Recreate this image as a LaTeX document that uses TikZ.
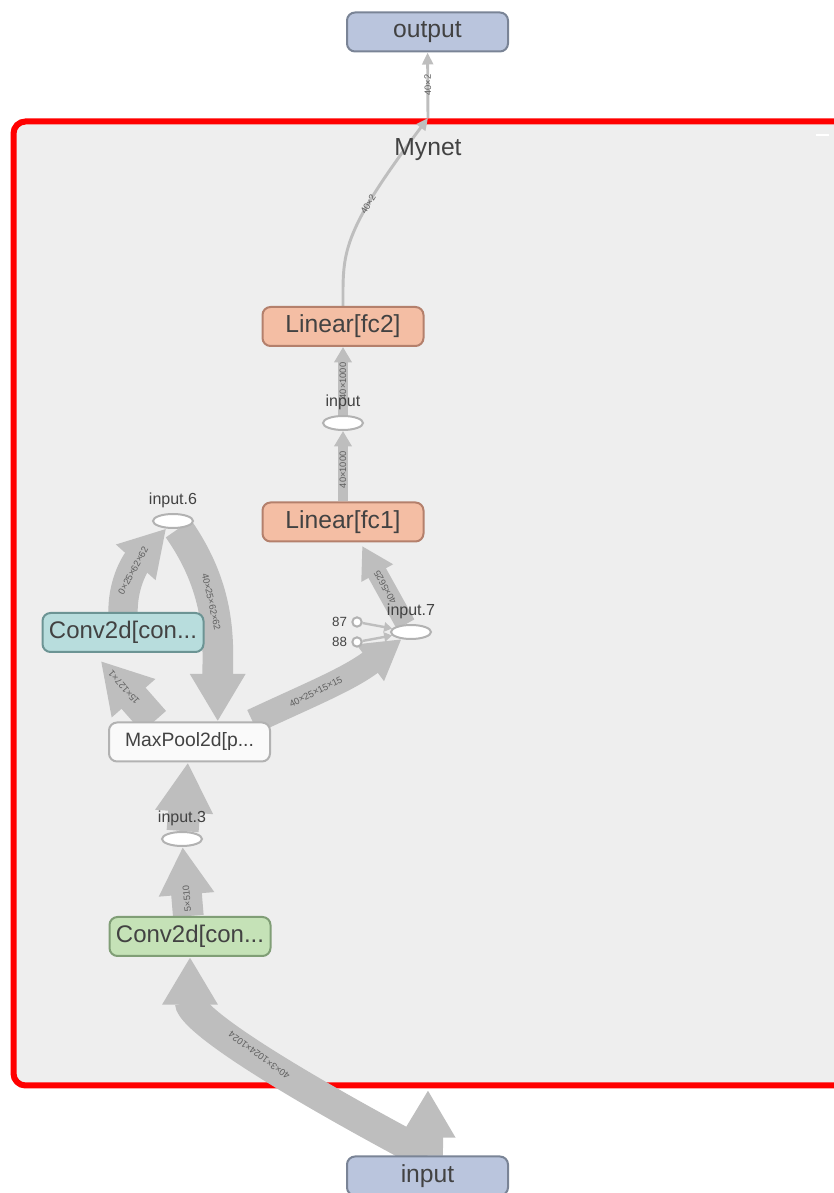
\documentclass[tikz,border=0pt]{standalone}
\usepackage{fontspec}
\setmainfont{Liberation Sans}
\usepackage{tikz}
\usetikzlibrary{arrows.meta}
\usetikzlibrary{shapes.geometric}
\usetikzlibrary {positioning}
\definecolor{edgegray}{RGB}{190,190,190}
\definecolor{holegray}{RGB}{178,178,178}
\definecolor{textgray}{RGB}{66,66,66}
\definecolor{labelgray}{RGB}{95,95,95}
\definecolor{framegray}{RGB}{238,238,238}
\definecolor{iofill}{RGB}{186,197,221}
\definecolor{iodraw}{RGB}{122,132,150}
\definecolor{linfill}{RGB}{244,190,164}
\definecolor{lindraw}{RGB}{180,128,108}
\definecolor{tealfill}{RGB}{184,221,221}
\definecolor{tealdraw}{RGB}{108,148,148}
\definecolor{greenfill}{RGB}{197,226,183}
\definecolor{greendraw}{RGB}{128,158,118}
\tikzset{op node/.style={rectangle,rounded corners=6pt,draw,line width=1.5pt,minimum width=120.75pt,minimum height=29.25pt,inner sep=1pt,text=textgray,font=\fontsize{18.5}{18.5}\selectfont}}
\tikzset{hole node/.style={ellipse,draw=holegray,fill=white,line width=1.5pt,minimum width=30pt,minimum height=10.5pt,inner sep=0pt}}
\tikzset{hole text/.style={text=textgray,font=\fontsize{12}{12}\selectfont,inner sep=1pt,label distance=3pt}}
\tikzset{const node/.style={circle,draw=holegray,fill=white,line width=1.5pt,minimum size=7pt,inner sep=0pt}}
\tikzset{flow/.style={draw=edgegray,line width=#1,-{Triangle[width=0pt 1.7,length=0pt 1.55]}}}
\tikzset{thin flow/.style={draw=edgegray,line width=1.8pt,-{Triangle[width=7pt,length=6pt]}}}
\tikzset{line flow/.style={draw=edgegray,line width=2.2pt,-{Triangle[width=8pt,length=9pt]}}}
\tikzset{shape text/.style={sloped,allow upside down,font=\fontsize{7}{7}\selectfont,text=labelgray,inner sep=0pt}}
\pgfdeclarelayer{frame}
\pgfdeclarelayer{edges}
\pgfsetlayers{frame,edges,main}

\begin{document}
\begin{tikzpicture}[x=0.75pt,y=0.75pt,on grid]
	\useasboundingbox (0,0) rectangle (834,1193);
	\begin{pgfonlayer}{frame}
		\draw[red,line width=4.5pt,fill=framegray,rounded corners=9pt] (13.5,107.5) rectangle (855,1071.5);
		\draw[white,line width=1.5pt] (816,1058) -- (829,1058);
	\end{pgfonlayer}
	\node[text=textgray,font=\fontsize{18.5}{18.5}\selectfont] (mynet) at (428,1043) {Mynet};

	\node[op node,fill=linfill,draw=lindraw] (fc2) at (343,866.5) {Linear[fc2]};
	\node[hole node,label={[hole text]above:input}] (in1) [below = 72.375pt of fc2] {};
	\node[op node,fill=linfill,draw=lindraw] (fc1) [below = 74.25pt of in1] {Linear[fc1]};
	\node[hole node,label={[hole text]above:input.7}] (in7) [below right = 82.5pt and 51pt of fc1] {};
	\node[const node,label={[hole text,font=\fontsize{10}{10}\selectfont,label distance=2pt]left:87}] (c87) [above left = 7.5pt and 40.5pt of in7] {};
	\node[const node,label={[hole text,font=\fontsize{10}{10}\selectfont,label distance=2pt]left:88}] (c88) [below left = 7.5pt and 40.5pt of in7] {};
	\node[op node,fill=white!98!black,draw=holegray,font=\fontsize{14.5}{14.5}\selectfont] (pool) [below left = 165pt and 115.125pt of fc1] {MaxPool2d[p...};
	\node[op node,fill=tealfill,draw=tealdraw,font=\fontsize{18}{18}\selectfont] (conv2) [above left = 82.125pt and 49.875pt of pool] {Conv2d[con...};
	\node[hole node,label={[hole text]above:input.6}] (in6) [above left = 165.75pt and 12.375pt of pool] {};
	\node[hole node,label={[hole text]above:input.3}] (in3) [below left = 72.75pt and 5.625pt of pool] {};
	\node[op node,fill=greenfill,draw=greendraw,font=\fontsize{18}{18}\selectfont] (conv1) [below right = 73.125pt and 6pt of in3] {Conv2d[con...};
	\node[op node,fill=iofill,draw=iodraw] (inp) [below right = 179.625pt and 178.125pt of conv1] {input};
	\node[op node,fill=iofill,draw=iodraw] (out) [above right = 220.875pt and 63.375pt of fc2] {output};
	\coordinate (gate in) at (428,103);
	\coordinate (gate out) at (428,1075);

	\begin{pgfonlayer}{edges}
	\path
	(inp) edge[flow=23pt] (gate in)
	(inp.north) edge[flow=23pt,out=152,in=-90,out distance=140pt,in distance=45pt] node[shape text,pos=0.45] {40×3×1024×1024} (conv1)
	(conv1) edge[flow=23pt] node[shape text,pos=0.25] {5×510} (in3)
	(in3) edge[flow=24pt] (pool)
	(pool.150) edge[flow=24pt,shorten >=8pt] node[shape text,pos=0.5] {15×127×1} (conv2.215)
	(conv2) edge[flow=22pt,out=90,in=228] node[shape text,pos=0.45] {0×25×62×62} (in6)
	(in6) edge[flow=23pt,out=-55,in=90] node[shape text,pos=0.4] {40×25×62×62} (pool.36)
	(pool.18) edge[flow=19pt,out=25,in=217] node[shape text,pos=0.4] {40×25×15×15} (in7.217)
	(c87) edge[thin flow] (in7)
	(c88) edge[thin flow] (in7)
	(in7.125) edge[flow=15pt,shorten >=3pt] node[shape text,pos=0.45] {40×5625} (fc1.-50)
	(fc1) edge[flow=7.5pt] node[shape text,pos=0.45] {40×1000} (in1)
	(in1) edge[flow=7.5pt] node[shape text,pos=0.5] {40×1000} (fc2)
	(fc2) edge[line flow,out=90,in=233,out distance=40pt,in distance=110pt] node[shape text,pos=0.68] {40×2} (gate out)
	(gate out) edge[line flow] node[shape text,pos=0.5] {40×2} (out);
	\end{pgfonlayer}
\end{tikzpicture}
\end{document}
